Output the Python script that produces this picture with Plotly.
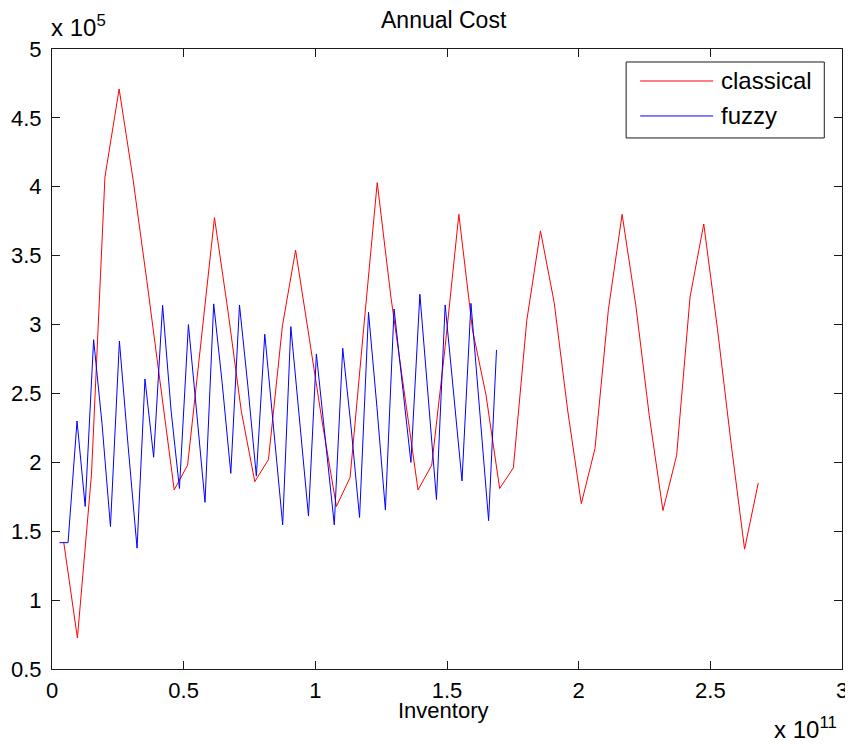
import plotly.graph_objects as go

# ---- data (Inventory in units of 1e11, Annual Cost in units of 1e5) ----
classical_x = [0.0445, 0.0965, 0.150, 0.201, 0.255, 0.308, 0.360, 0.412, 0.464, 0.515,
               0.566, 0.617, 0.668, 0.719, 0.770, 0.822, 0.875, 0.925, 0.977, 1.028,
               1.080, 1.132, 1.183, 1.235, 1.287, 1.338, 1.390, 1.442, 1.493, 1.545,
               1.597, 1.648, 1.700, 1.752, 1.803, 1.855, 1.907, 1.958, 2.010, 2.062,
               2.113, 2.165, 2.217, 2.268, 2.320, 2.372, 2.423, 2.475, 2.527, 2.578,
               2.630, 2.682]
classical_y = [1.42, 0.725, 1.914, 4.07, 4.71, 4.05, 3.32, 2.56, 1.80, 1.98,
               2.86, 3.776, 3.10, 2.37, 1.86, 2.02, 2.99, 3.54, 2.90, 2.27,
               1.68, 1.89, 2.96, 4.03, 3.20, 2.52, 1.80, 1.98, 2.84, 3.80,
               2.96, 2.49, 1.81, 1.96, 3.03, 3.68, 3.16, 2.38, 1.70, 2.10,
               3.11, 3.80, 3.14, 2.34, 1.65, 2.05, 3.20, 3.73, 2.97, 2.15,
               1.37, 1.85]

fuzzy_x = [0.028, 0.061, 0.095, 0.126, 0.158, 0.190, 0.222, 0.256, 0.289, 0.323,
           0.353, 0.386, 0.420, 0.452, 0.484, 0.518, 0.550, 0.581, 0.614, 0.646,
           0.679, 0.712, 0.744, 0.776, 0.808, 0.842, 0.876, 0.907, 0.940, 0.974,
           1.004, 1.038, 1.072, 1.104, 1.136, 1.168, 1.202, 1.234, 1.266, 1.299,
           1.331, 1.363, 1.397, 1.429, 1.460, 1.493, 1.525, 1.557, 1.591, 1.624,
           1.658, 1.688]
fuzzy_y = [1.417, 1.417, 2.30, 1.68, 2.89, 2.28, 1.534, 2.88, 2.12, 1.377,
           2.605, 2.037, 3.14, 2.38, 1.81, 3.00, 2.35, 1.71, 3.15, 2.58,
           1.92, 3.142, 2.55, 1.90, 2.93, 2.25, 1.546, 2.985, 2.30, 1.61,
           2.787, 2.15, 1.546, 2.828, 2.25, 1.60, 3.089, 2.40, 1.655, 3.113,
           2.55, 2.00, 3.22, 2.45, 1.73, 3.142, 2.50, 1.865, 3.154, 2.40,
           1.577, 2.816]

x_ticks = [0, 0.5, 1, 1.5, 2, 2.5, 3]
x_tick_labels = ["0", "0.5", "1", "1.5", "2", "2.5", "3"]
y_ticks = [0.5, 1, 1.5, 2, 2.5, 3, 3.5, 4, 4.5, 5]
y_tick_labels = ["0.5", "1", "1.5", "2", "2.5", "3", "3.5", "4", "4.5", "5"]

series_names = ["classical", "fuzzy"]
series_colors = ["#ff0000", "#0000ff"]

title_text = "Annual Cost"
x_title = "Inventory"
y_exp = "x 10<sup>5</sup>"
x_exp = "x 10<sup>11</sup>"

# ---- layout geometry ----
# the page body has an 8px margin, so the figure is drawn 8px right/down of the window corner
OFF = 8
W, H = 853 - OFF, 747 - OFF
# target plot-area edges in window pixels
S_LEFT, S_RIGHT, S_TOP, S_BOTTOM = 52.3, 841.7, 49.0, 669.3
L = S_LEFT - OFF
T = S_TOP - OFF
R = W - (S_RIGHT - OFF)
B = H - (S_BOTTOM - OFF)
PW = W - L - R
PH = H - T - B
FONT = "Liberation Sans, Arial, Helvetica, sans-serif"
FS = 22
AX = "#1a1a1a"


def px(xs):
    """window x pixel -> paper x"""
    return (xs - OFF - L) / PW


def py(ys):
    """window y pixel -> paper y"""
    return (H - B - (ys - OFF)) / PH


fig = go.Figure()
fig.add_trace(go.Scatter(x=classical_x, y=classical_y, mode="lines", name=series_names[0],
                         line=dict(color=series_colors[0], width=1), showlegend=False))
fig.add_trace(go.Scatter(x=fuzzy_x, y=fuzzy_y, mode="lines", name=series_names[1],
                         line=dict(color=series_colors[1], width=1), showlegend=False))

axis_common = dict(showline=True, linecolor=AX, linewidth=1, mirror="ticks",
                   ticks="inside", ticklen=8, tickcolor=AX, tickwidth=1,
                   showgrid=False, zeroline=False, automargin=False,
                   tickfont=dict(family=FONT, size=FS, color="black"))

fig.update_xaxes(range=[0, 3], tickmode="array", tickvals=x_ticks, ticktext=x_tick_labels,
                 ticklabelstandoff=2, ticklabeloverflow="allow", **axis_common)
fig.update_yaxes(range=[0.5, 5], tickmode="array", tickvals=y_ticks, ticktext=y_tick_labels,
                 ticklabelstandoff=5, **axis_common)

ann = []
ann.append(dict(text=title_text, x=px(444), y=py(20), xref="paper", yref="paper",
                xanchor="center", yanchor="middle", showarrow=False,
                font=dict(family=FONT, size=23, color="black")))
ann.append(dict(text=x_title, x=px(444), y=py(711), xref="paper", yref="paper",
                xanchor="center", yanchor="middle", showarrow=False,
                font=dict(family=FONT, size=FS, color="black")))
ann.append(dict(text=y_exp, x=px(49), y=py(26), xref="paper", yref="paper",
                xanchor="left", yanchor="middle", showarrow=False,
                font=dict(family=FONT, size=24, color="black")))
ann.append(dict(text=x_exp, x=px(839), y=py(728), xref="paper", yref="paper",
                xanchor="right", yanchor="middle", showarrow=False,
                font=dict(family=FONT, size=24, color="black")))

# MATLAB-style legend box
shapes = []
lx0, lx1, ly0, ly1 = 626, 824, 62, 138
shapes.append(dict(type="rect", xref="paper", yref="paper",
                   x0=px(lx0), x1=px(lx1), y0=py(ly1), y1=py(ly0),
                   line=dict(color=AX, width=1), fillcolor="white", layer="above"))
row_y = [81, 116]
for name, col, ry in zip(series_names, series_colors, row_y):
    shapes.append(dict(type="line", xref="paper", yref="paper",
                       x0=px(640), x1=px(713), y0=py(ry), y1=py(ry),
                       line=dict(color=col, width=1), layer="above"))
    ann.append(dict(text=name, x=px(719), y=py(ry), xref="paper", yref="paper",
                    xanchor="left", yanchor="middle", showarrow=False,
                    font=dict(family=FONT, size=24, color="black")))

fig.update_layout(width=W, height=H, margin=dict(l=L, r=R, t=T, b=B, autoexpand=False),
                  paper_bgcolor="white", plot_bgcolor="white",
                  annotations=ann, shapes=shapes, showlegend=False)

fig.write_html("out.html")
